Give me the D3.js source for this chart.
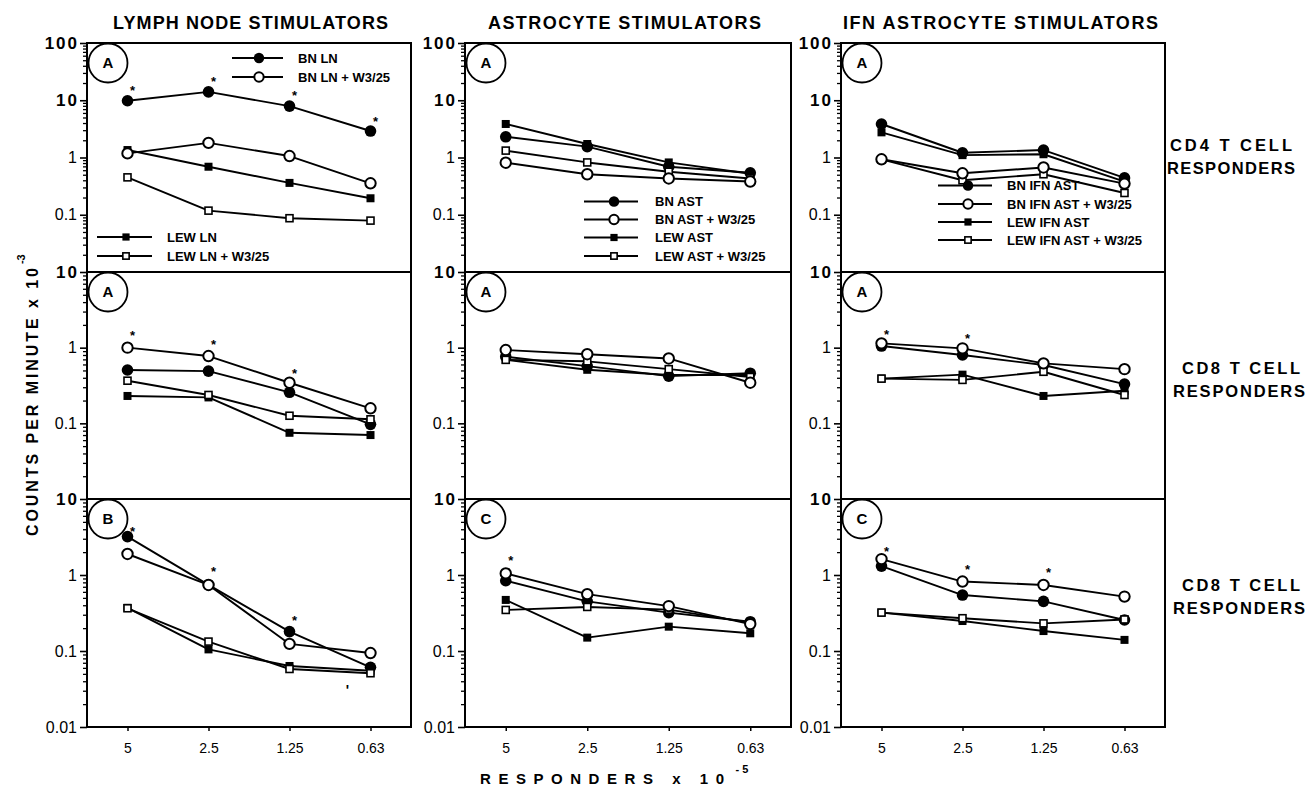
<!DOCTYPE html>
<html><head><meta charset="utf-8">
<script src="https://cdn.jsdelivr.net/npm/d3@7"></script>
<style>body{margin:0;background:#fff}svg{display:block}</style>
</head><body><svg id="c" width="1309" height="803"></svg>
<script>
// ---------- DATA ----------
const categories = ["5", "2.5", "1.25", "0.63"];
const columnTitles = ["LYMPH NODE STIMULATORS", "ASTROCYTE STIMULATORS", "IFN ASTROCYTE STIMULATORS"];
const rowLabels = [["CD4 T CELL", "RESPONDERS"], ["CD8 T CELL", "RESPONDERS"], ["CD8 T CELL", "RESPONDERS"]];
const panelLetters = [["A", "A", "A"], ["A", "A", "A"], ["B", "C", "C"]];
const yTicksTop = [100, 10, 1, 0.1];
const yTicksMid = [10, 1, 0.1];
const yTicksBottom = [10, 1, 0.1, 0.01];
const legendLN = ["BN LN", "BN LN + W3/25", "LEW LN", "LEW LN + W3/25"];
const legendAST = ["BN AST", "BN AST + W3/25", "LEW AST", "LEW AST + W3/25"];
const legendIFN = ["BN IFN AST", "BN IFN AST + W3/25", "LEW IFN AST", "LEW IFN AST + W3/25"];

// Row 1: CD4 responders
const cd4LnBN = [9.8, 14, 7.9, 2.9];
const cd4LnBNW = [1.18, 1.8, 1.06, 0.354];
const cd4LnLEW = [1.35, 0.69, 0.36, 0.194];
const cd4LnLEWW = [0.45, 0.118, 0.087, 0.079];
const cd4AstBN = [2.3, 1.55, 0.69, 0.54];
const cd4AstBNW = [0.81, 0.51, 0.43, 0.38];
const cd4AstLEW = [3.85, 1.72, 0.82, 0.52];
const cd4AstLEWW = [1.32, 0.82, 0.565, 0.43];
const cd4IfnBN = [3.85, 1.21, 1.35, 0.44];
const cd4IfnBNW = [0.93, 0.53, 0.67, 0.35];
const cd4IfnLEW = [2.75, 1.1, 1.14, 0.38];
const cd4IfnLEWW = [0.93, 0.40, 0.51, 0.24];
// Row 2: CD8 responders (A)
const cd8aLnBN = [0.507, 0.49, 0.257, 0.097];
const cd8aLnBNW = [1.0, 0.775, 0.344, 0.158];
const cd8aLnLEW = [0.23, 0.22, 0.075, 0.070];
const cd8aLnLEWW = [0.366, 0.237, 0.126, 0.113];
const cd8aAstBN = [0.76, 0.57, 0.42, 0.46];
const cd8aAstBNW = [0.93, 0.82, 0.72, 0.344];
const cd8aAstLEW = [0.69, 0.51, 0.435, 0.435];
const cd8aAstLEWW = [0.69, 0.66, 0.52, 0.41];
const cd8aIfnBN = [1.05, 0.80, 0.59, 0.33];
const cd8aIfnBNW = [1.14, 0.98, 0.62, 0.52];
const cd8aIfnLEW = [0.39, 0.44, 0.23, 0.27];
const cd8aIfnLEWW = [0.39, 0.375, 0.48, 0.237];
// Row 3: CD8 responders (B / C)
const cd8bLnBN = [3.2, 0.74, 0.18, 0.061];
const cd8bLnBNW = [1.89, 0.74, 0.124, 0.094];
const cd8bLnLEW = [0.37, 0.105, 0.0635, 0.055];
const cd8bLnLEWW = [0.365, 0.133, 0.058, 0.051];
const cd8bAstBN = [0.84, 0.45, 0.32, 0.243];
const cd8bAstBNW = [1.05, 0.56, 0.39, 0.226];
const cd8bAstLEW = [0.47, 0.15, 0.209, 0.171];
const cd8bAstLEWW = [0.347, 0.38, 0.35, 0.236];
const cd8bIfnBN = [1.31, 0.545, 0.45, 0.256];
const cd8bIfnBNW = [1.62, 0.82, 0.74, 0.52];
const cd8bIfnLEW = [0.32, 0.248, 0.183, 0.14];
const cd8bIfnLEWW = [0.32, 0.27, 0.231, 0.26];

// significance asterisks: [category, value]
const starsCd4Ln = [["5", 17], ["2.5", 24.5], ["1.25", 13.9], ["0.63", 4.9]];
const starsCd8aLn = [["5", 1.61], ["2.5", 1.22], ["1.25", 0.51]];
const starsCd8aIfn = [["5", 1.66], ["2.5", 1.47]];
const starsCd8bLn = [["5", 4.15], ["2.5", 1.24], ["1.25", 0.28]];
const starsCd8bAst = [["5", 1.73]];
const starsCd8bIfn = [["5", 2.26], ["2.5", 1.31], ["1.25", 1.2]];
const strayMark = ["0.63", 0.031];

// ---------- LAYOUT ----------
const svg = d3.select("#c");
const FONT = "'Liberation Sans', Arial, Helvetica, sans-serif";
const cols = [{l: 87, r: 411}, {l: 465, r: 791}, {l: 841, r: 1165}];
const rows = [
  {t: 43, b: 272, max: 100, ticks: yTicksTop},
  {t: 272, b: 499, max: 10, ticks: yTicksMid},
  {t: 499, b: 727, max: 10, ticks: yTicksBottom}
];
const panels = [
  [[cd4LnBN, cd4LnBNW, cd4LnLEW, cd4LnLEWW], [cd4AstBN, cd4AstBNW, cd4AstLEW, cd4AstLEWW], [cd4IfnBN, cd4IfnBNW, cd4IfnLEW, cd4IfnLEWW]],
  [[cd8aLnBN, cd8aLnBNW, cd8aLnLEW, cd8aLnLEWW], [cd8aAstBN, cd8aAstBNW, cd8aAstLEW, cd8aAstLEWW], [cd8aIfnBN, cd8aIfnBNW, cd8aIfnLEW, cd8aIfnLEWW]],
  [[cd8bLnBN, cd8bLnBNW, cd8bLnLEW, cd8bLnLEWW], [cd8bAstBN, cd8bAstBNW, cd8bAstLEW, cd8bAstLEWW], [cd8bIfnBN, cd8bIfnBNW, cd8bIfnLEW, cd8bIfnLEWW]]
];
const stars = [[starsCd4Ln, [], []], [starsCd8aLn, [], starsCd8aIfn], [starsCd8bLn, starsCd8bAst, starsCd8bIfn]];
const symbolKinds = ["filledCircle", "openCircle", "filledSquare", "openSquare"];

function drawMarker(g, kind, x, y, scale) {
  scale = scale || 1;
  if (kind === "filledCircle") {
    g.append("circle").attr("cx", x).attr("cy", y).attr("r", 5.8 * scale).attr("fill", "#000");
  } else if (kind === "openCircle") {
    g.append("circle").attr("cx", x).attr("cy", y).attr("r", 5.2 * scale)
      .attr("fill", "#fff").attr("stroke", "#000").attr("stroke-width", 2);
  } else if (kind === "filledSquare") {
    const s = 8 * scale;
    g.append("rect").attr("x", x - s / 2).attr("y", y - s / 2).attr("width", s).attr("height", s).attr("fill", "#000");
  } else {
    const s = 7 * scale;
    g.append("rect").attr("x", x - s / 2).attr("y", y - s / 2).attr("width", s).attr("height", s)
      .attr("fill", "#fff").attr("stroke", "#000").attr("stroke-width", 1.6);
  }
}

const xScales = cols.map(c => d3.scalePoint().domain(categories).range([c.l, c.r]).padding(0.5));
const yScales = rows.map(r => d3.scaleLog().domain([0.01, r.max]).range([r.b, r.t]));

rows.forEach((row, ri) => {
  cols.forEach((col, ci) => {
    const x = xScales[ci], y = yScales[ri];
    const g = svg.append("g");

    // minor ticks
    const minors = [];
    for (let k = -2; k < Math.log10(row.max); k++)
      for (let m = 2; m <= 9; m++) minors.push(m * Math.pow(10, k));
    g.append("g").attr("transform", `translate(${col.l},0)`)
      .call(d3.axisLeft(y).tickValues(minors).tickSize(4).tickSizeOuter(0).tickFormat(""))
      .call(a => a.select(".domain").remove())
      .selectAll("line").attr("stroke-width", 1.3);

    // major ticks + labels
    const ya = g.append("g").attr("transform", `translate(${col.l},0)`)
      .call(d3.axisLeft(y).tickValues(row.ticks).tickSize(7).tickPadding(3).tickSizeOuter(0).tickFormat(d => String(d)));
    ya.select(".domain").remove();
    ya.selectAll("line").attr("stroke-width", 1.6);
    ya.selectAll("text")
      .attr("font-family", FONT)
      .attr("font-size", d => d >= 10 ? 17 : 16)
      .attr("fill", "#000")
      .attr("font-weight", d => d >= 10 ? "bold" : "normal")
      .attr("letter-spacing", d => d >= 10 ? "2px" : "0px")
      .attr("dx", d => d >= 10 ? "2px" : "0px");

    // x axis on bottom row
    if (ri === 2) {
      const xa = g.append("g").attr("transform", `translate(0,${row.b})`)
        .call(d3.axisBottom(x).tickSize(4).tickPadding(12).tickSizeOuter(0));
      xa.select(".domain").remove();
      xa.selectAll("line").attr("stroke-width", 1.5);
      xa.selectAll("text").attr("font-family", FONT).attr("font-size", 14).attr("fill", "#000");
    }

    // panel letter circle (drawn under the data)
    g.append("circle").attr("cx", col.l + 21).attr("cy", row.t + 20).attr("r", 19.5)
      .attr("fill", "#fff").attr("stroke", "#000").attr("stroke-width", 1.8);
    g.append("text").attr("x", col.l + 21).attr("y", row.t + 20).attr("dy", "0.36em")
      .attr("text-anchor", "middle").attr("font-family", FONT).attr("font-size", 15)
      .attr("font-weight", "bold").text(panelLetters[ri][ci]);

    // series
    const series = panels[ri][ci];
    const line = d3.line().x((d, i) => x(categories[i])).y(d => y(d));
    series.forEach(vals => {
      g.append("path").attr("d", line(vals)).attr("fill", "none")
        .attr("stroke", "#000").attr("stroke-width", 1.9).attr("stroke-linejoin", "round");
    });
    [2, 0, 3, 1].forEach(si => {
      series[si].forEach((v, i) => drawMarker(g, symbolKinds[si], x(categories[i]), y(v)));
    });

    // asterisks
    stars[ri][ci].forEach(([c, v]) => {
      g.append("text").attr("x", x(c) + 5).attr("y", y(v) + 8)
        .attr("text-anchor", "middle").attr("font-family", FONT)
        .attr("font-size", 13).attr("font-weight", "bold").text("*");
    });
    if (ri === 2 && ci === 0) {
      g.append("text").attr("x", x(strayMark[0]) - 23).attr("y", y(strayMark[1]) + 5)
        .attr("text-anchor", "middle").attr("font-family", FONT).attr("font-size", 14)
        .attr("font-weight", "bold").text("'");
    }
  });
});

// panel frames
cols.forEach(col => {
  svg.append("rect").attr("x", col.l).attr("y", rows[0].t).attr("width", col.r - col.l)
    .attr("height", rows[2].b - rows[0].t).attr("fill", "none").attr("stroke", "#000").attr("stroke-width", 2);
  [rows[1].t, rows[2].t].forEach(yy => {
    svg.append("line").attr("x1", col.l).attr("x2", col.r).attr("y1", yy).attr("y2", yy)
      .attr("stroke", "#000").attr("stroke-width", 2);
  });
});

// legends
function legend(items, kinds, x0, x1, xm, xt, ys, fs) {
  items.forEach((label, i) => {
    const g = svg.append("g");
    g.append("line").attr("x1", x0).attr("x2", x1).attr("y1", ys[i]).attr("y2", ys[i])
      .attr("stroke", "#000").attr("stroke-width", 1.9);
    drawMarker(g, kinds[i], xm, ys[i], 0.9);
    g.append("text").attr("x", xt).attr("y", ys[i]).attr("dy", "0.35em")
      .attr("font-family", FONT).attr("font-size", fs).attr("font-weight", "bold").text(label);
  });
}
legend(legendLN.slice(0, 2), symbolKinds.slice(0, 2), 232, 283, 259, 298, [58, 77], 13);
legend(legendLN.slice(2), symbolKinds.slice(2), 97, 152, 126, 167, [237, 256], 13);
legend(legendAST, symbolKinds, 584, 638, 614, 655, [201.5, 219.5, 237.5, 256], 13);
legend(legendIFN, symbolKinds, 938, 992, 968, 1007, [185.5, 204, 222, 240], 13);

// column titles
const titleGeom = [{x: 113, w: 275}, {x: 488, w: 273}, {x: 843, w: 315}];
columnTitles.forEach((t, i) => {
  svg.append("text").attr("x", titleGeom[i].x).attr("y", 29)
    .attr("font-family", FONT).attr("font-size", 18).attr("font-weight", "bold")
    .attr("textLength", titleGeom[i].w).attr("lengthAdjust", "spacing").text(t);
});

// row labels on right
const rowLabelGeom = [
  [{x: 1170, y: 151, w: 122}, {x: 1167, y: 174, w: 128}],
  [{x: 1182, y: 374, w: 118}, {x: 1173, y: 397, w: 132}],
  [{x: 1182, y: 591, w: 118}, {x: 1173, y: 614, w: 132}]
];
rowLabels.forEach((pair, ri) => {
  pair.forEach((t, j) => {
    const gm = rowLabelGeom[ri][j];
    svg.append("text").attr("x", gm.x).attr("y", gm.y)
      .attr("font-family", FONT).attr("font-size", 16.5).attr("font-weight", "bold")
      .attr("textLength", gm.w).attr("lengthAdjust", "spacing").text(t);
  });
});

// y axis title
const yt = svg.append("text").attr("transform", "translate(38,536) rotate(-90)")
  .attr("font-family", FONT).attr("font-size", 16).attr("font-weight", "bold");
yt.append("tspan").attr("textLength", 268).attr("lengthAdjust", "spacing").text("COUNTS PER MINUTE x 10");
yt.append("tspan").attr("dy", -13).attr("dx", 1).attr("font-size", 11).text("-3");

// x axis title
const xt = svg.append("text").attr("x", 480).attr("y", 784)
  .attr("font-family", FONT).attr("font-size", 15).attr("font-weight", "bold");
xt.append("tspan").attr("textLength", 244).attr("lengthAdjust", "spacing").text("RESPONDERS x 10");
xt.append("tspan").attr("dy", -11).attr("dx", 4).attr("font-size", 11).text("- 5");
</script></body></html>
